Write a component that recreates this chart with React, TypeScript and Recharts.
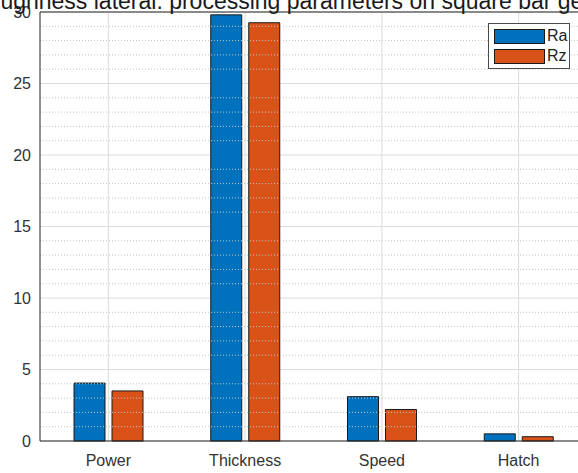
import { BarChart, Bar, XAxis, YAxis, CartesianGrid, ReferenceLine, Legend } from "recharts";

const categories = ["Power", "Thickness", "Speed", "Hatch"];
const raValues = [4.05, 29.8, 3.1, 0.5];
const rzValues = [3.5, 29.25, 2.2, 0.3];
const yTicks = [0, 5, 10, 15, 20, 25, 30];
// dotted minor grid, one line per unit between the labelled ticks
const yMinorTicks = Array.from({ length: 31 }, (_, i) => i).filter((v) => v % 5 !== 0);

const data = categories.map((name, i) => ({ name, Ra: raValues[i], Rz: rzValues[i] }));

const AXIS = "#262626";
const FONT = "'Liberation Sans', Arial, sans-serif";

function LegendBox({ payload }: any) {
  return (
    <div
      style={{
        position: "relative",
        width: 82,
        height: 46,
        boxSizing: "border-box",
        border: "1px solid #4a4a4a",
        background: "#fff",
        fontFamily: FONT,
        fontSize: 16,
        color: "#222",
      }}
    >
      {(payload || []).map((p: any, i: number) => (
        <div key={p.value}>
          <div
            style={{
              position: "absolute",
              left: 5,
              top: 5 + i * 20,
              width: 51,
              height: 15,
              boxSizing: "border-box",
              background: p.color,
              border: "1px solid #1a1a1a",
            }}
          />
          <div style={{ position: "absolute", left: 58, top: 2 + i * 20, lineHeight: "20px" }}>{p.value}</div>
        </div>
      ))}
    </div>
  );
}

export default function App() {
  return (
    <div
      style={{
        position: "fixed",
        left: 0,
        top: 0,
        width: 578,
        height: 473,
        overflow: "hidden",
        background: "#fff",
      }}
    >
      <BarChart
        width={600}
        height={473}
        data={data}
        margin={{ top: 12, right: 13, left: 8, bottom: 0 }}
        barSize={31}
        barGap={7}
        style={{ fontFamily: FONT }}
      >
        {yMinorTicks.map((v) => (
          <ReferenceLine key={"m" + v} y={v} stroke="#c4c4c4" strokeDasharray="1 2" />
        ))}
        <CartesianGrid vertical={false} stroke="#dcdcdc" />
        {categories.map((c) => (
          <ReferenceLine key={c} x={c} stroke="#dcdcdc" />
        ))}
        <XAxis
          dataKey="name"
          height={32}
          tickLine={false}
          tickSize={0}
          tickMargin={14}
          axisLine={{ stroke: AXIS }}
          tick={{ fontSize: 16, fill: "#333" }}
        />
        <YAxis
          width={32}
          domain={[0, 30]}
          ticks={yTicks}
          interval={0}
          tickLine={false}
          tickSize={0}
          tickMargin={9}
          axisLine={{ stroke: AXIS }}
          tick={{ fontSize: 16, fill: "#333" }}
        />
        <ReferenceLine y={30} stroke={AXIS} />
        <Legend
          layout="vertical"
          align="center"
          verticalAlign="middle"
          content={<LegendBox />}
          wrapperStyle={{ position: "absolute", left: 488, top: 23, width: 82, height: 46 }}
        />
        <Bar dataKey="Ra" fill="#0072BD" stroke="#1a1a1a" strokeWidth={1} isAnimationActive={false} />
        <Bar dataKey="Rz" fill="#D95319" stroke="#1a1a1a" strokeWidth={1} isAnimationActive={false} />
      </BarChart>
      <svg
        width={578}
        height={20}
        style={{ position: "absolute", left: 0, top: 0, overflow: "visible" }}
      >
        <text x={-29} y={9} fontFamily={FONT} fontSize={23} fill="#1a1a1a">
          Roughness lateral: processing parameters on square bar geometry
        </text>
      </svg>
    </div>
  );
}
